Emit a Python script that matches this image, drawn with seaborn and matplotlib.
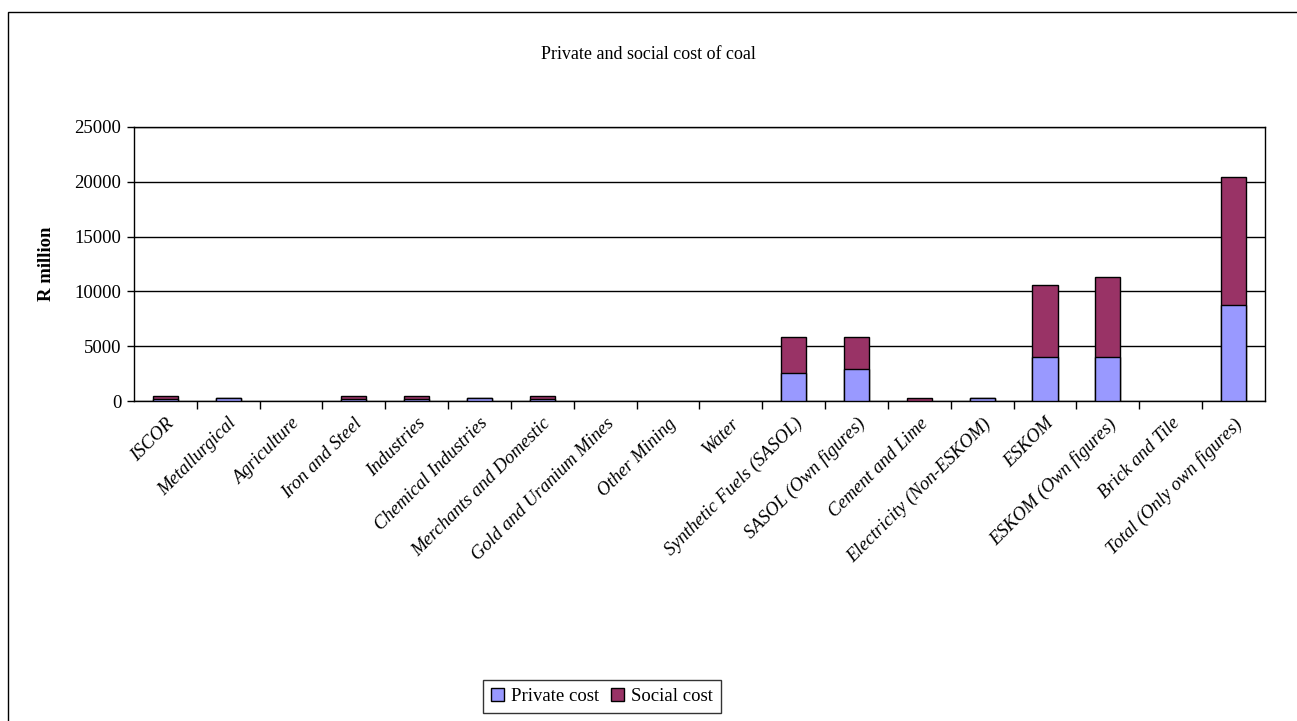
import numpy as np
import pandas as pd
import seaborn as sns
from matplotlib import pyplot as plt
from matplotlib.patches import Rectangle, Patch
from matplotlib.ticker import FixedLocator, NullFormatter
from matplotlib.transforms import ScaledTranslation

# values, R million
sectors = [
    "ISCOR", "Metallurgical", "Agriculture", "Iron and Steel", "Industries",
    "Chemical Industries", "Merchants and Domestic", "Gold and Uranium Mines",
    "Other Mining", "Water", "Synthetic Fuels (SASOL)", "SASOL (Own figures)",
    "Cement and Lime", "Electricity (Non-ESKOM)", "ESKOM", "ESKOM (Own figures)",
    "Brick and Tile", "Total (Only own figures)",
]
private_cost = [200, 250, 0, 200, 200, 250, 200, 0, 0, 0, 2550, 2900, 0, 250, 4000, 4000, 0, 8750]
social_cost = [300, 0, 0, 300, 300, 0, 300, 0, 0, 0, 3300, 2900, 250, 0, 6550, 7300, 0, 11650]

PRIVATE = "#9999FF"
SOCIAL = "#993366"

sns.set_theme(style="white")
plt.rcParams["font.family"] = ["Liberation Serif", "DejaVu Serif"]
plt.rcParams["text.color"] = "black"
plt.rcParams["axes.labelcolor"] = "black"
plt.rcParams["xtick.color"] = "black"
plt.rcParams["ytick.color"] = "black"

df = pd.DataFrame({
    "sector": sectors,
    "private": private_cost,
    "social": social_cost,
})
df["total"] = df["private"] + df["social"]

fig = plt.figure(figsize=(12.97, 7.21), dpi=100)
ax = fig.add_axes([0.1033, 0.4438, 0.8720, 0.3801])

# stacked: total first (social colour), private on top of it
sns.barplot(data=df, x="sector", y="total", color=SOCIAL, saturation=1,
            width=0.4, edgecolor="black", linewidth=1, ax=ax, zorder=3)
sns.barplot(data=df, x="sector", y="private", color=PRIVATE, saturation=1,
            width=0.4, edgecolor="black", linewidth=1, ax=ax, zorder=4)

# empty sectors: no visible sliver at zero
for p in ax.patches:
    if p.get_height() == 0:
        p.set_visible(False)

ax.set_xlim(-0.5, len(sectors) - 0.5)
ax.set_ylim(0, 25000)
ax.set_yticks(np.arange(0, 25001, 5000))
ax.yaxis.grid(True, color="black", linewidth=1)
ax.set_axisbelow(True)

for side in ["left", "right", "bottom", "top"]:
    ax.spines[side].set_visible(True)
    ax.spines[side].set_color("black")
    ax.spines[side].set_linewidth(1)

ax.set_xticks(range(len(sectors)))
ax.set_xticklabels(sectors, rotation=45, ha="right", rotation_mode="anchor",
                   fontstyle="italic", fontsize=13.5)
shift = ScaledTranslation(-10 / 100, -4 / 100, fig.dpi_scale_trans)
for lbl in ax.get_xticklabels():
    lbl.set_transform(lbl.get_transform() + shift)
ax.tick_params(axis="x", which="major", length=0, pad=10)
ax.xaxis.set_minor_locator(FixedLocator(np.arange(0.5, len(sectors) - 0.5, 1)))
ax.xaxis.set_minor_formatter(NullFormatter())
ax.tick_params(axis="x", which="minor", length=6, width=1, color="black", bottom=True)
ax.tick_params(axis="y", length=5, width=1, color="black", left=True, labelsize=13.5, pad=4)

ax.set_xlabel("")
ax.set_ylabel("R million", fontsize=13.5, fontweight="bold", labelpad=14)
fig.text(0.5, 0.924, "Private and social cost of coal", ha="center", va="center", fontsize=13)

handles = [Patch(facecolor=PRIVATE, edgecolor="black", linewidth=1),
           Patch(facecolor=SOCIAL, edgecolor="black", linewidth=1)]
leg = fig.legend(handles, ["Private cost", "Social cost"], loc="center",
                 bbox_to_anchor=(0.464, 0.034), ncol=2, fontsize=13.5, frameon=True,
                 fancybox=False, edgecolor="black", handlelength=0.7, handleheight=0.7,
                 handletextpad=0.4, columnspacing=0.6, borderpad=0.4)
leg.get_frame().set_linewidth(1)

fig.patches.append(Rectangle((0.0062, -0.1), 1.1, 1.083, transform=fig.transFigure,
                             fill=False, edgecolor="black", linewidth=1))

fig.savefig("out.png", dpi=100)
